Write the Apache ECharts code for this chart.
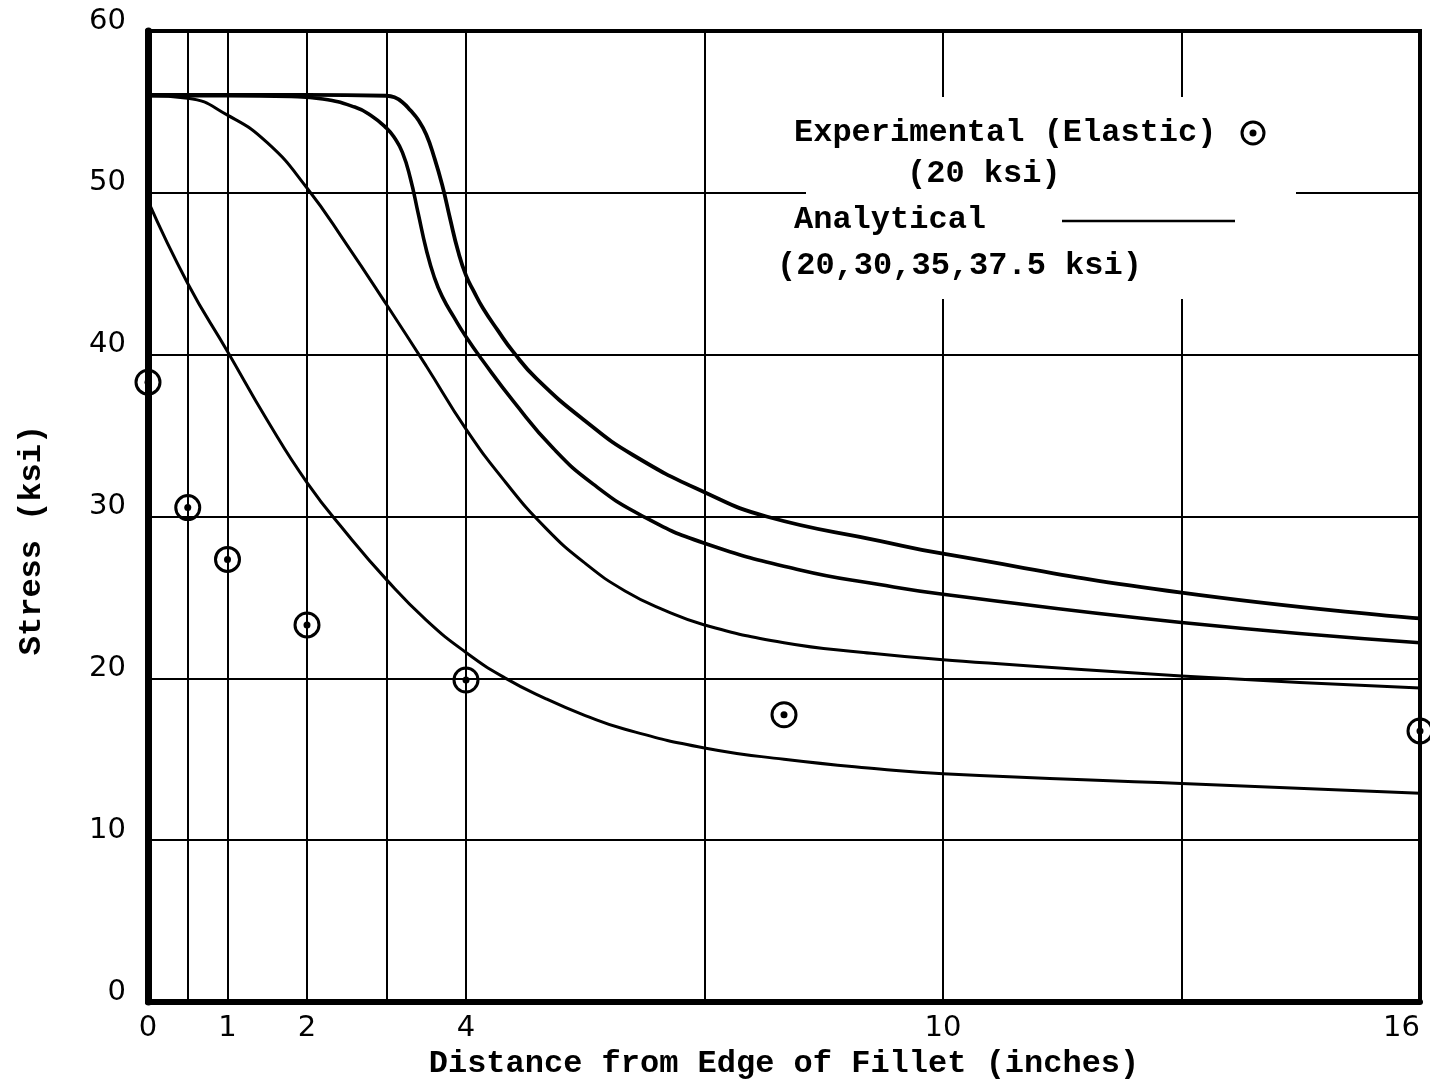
<!DOCTYPE html>
<html>
<head>
<meta charset="utf-8">
<title>Stress vs Distance from Edge of Fillet</title>
<script src="https://cdn.jsdelivr.net/npm/echarts@6/dist/echarts.min.js"></script>
<style>
  html, body { margin: 0; padding: 0; background: #fff; }
  #chart { width: 1430px; height: 1086px; }
</style>
</head>
<body>
<div id="chart"></div>
<script>
// Axis layout values (inches / ksi)
const xGridValues = [0, 0.5, 1, 2, 3, 4, 7, 10, 13, 16];
const xTickLabels = [0, 1, 2, 4, 10, 16];
const yTickLabels = [0, 10, 20, 30, 40, 50, 60];

// Experimental (elastic) measurements, 20 ksi
const expX = [0, 0.5, 1, 2, 4, 8, 16];
const expStress = [38.3, 30.55, 27.35, 23.3, 19.9, 17.75, 16.75];

// Analytical curves, one per applied stress level
const a20X = [0, 0.5, 1, 1.5, 2, 2.5, 3, 3.5, 4, 4.5, 5, 5.5, 6, 7, 8, 9.2, 10, 13, 16];
const a20Y = [49.5, 44.4, 40.2, 35.95, 32.1, 28.95, 26.1, 23.6, 21.6, 20.0, 18.75, 17.7, 16.85, 15.7, 15.0, 14.4, 14.1, 13.5, 12.9];

const a30X = [0, 0.5, 1, 1.5, 2, 2.5, 3, 3.5, 4, 4.5, 5, 5.5, 6, 6.5, 7, 8, 9, 10, 13, 16];
const a30Y = [56.0, 55.85, 54.8, 53.1, 50.3, 46.8, 43.1, 39.3, 35.4, 32.1, 29.3, 27.1, 25.4, 24.2, 23.3, 22.2, 21.6, 21.15, 20.15, 19.4];

const a35X = [0, 1, 1.8, 2.2, 2.6, 2.8, 3.0, 3.1, 3.2, 3.3, 3.4, 3.5, 3.6, 3.7, 3.85, 4.0, 4.2, 4.6, 5.1, 5.6, 6.23, 7, 8.2, 9.2, 10, 13, 16];
const a35Y = [56.0, 56.0, 55.95, 55.8, 55.3, 54.8, 54.0, 53.4, 52.5, 50.9, 48.7, 46.5, 44.8, 43.6, 42.3, 41.1, 39.7, 37.1, 34.2, 32.0, 30.0, 28.35, 26.7, 25.8, 25.2, 23.45, 22.2];

const a375X = [0, 1, 2, 3, 3.1, 3.2, 3.3, 3.4, 3.5, 3.6, 3.7, 3.8, 3.9, 4.0, 4.1, 4.21, 4.4, 4.59, 4.89, 5.5, 6.1, 7, 7.78, 9.2, 10, 13, 16];
const a375Y = [56.05, 56.05, 56.05, 56.0, 55.9, 55.6, 55.1, 54.5, 53.6, 52.2, 50.5, 48.4, 46.4, 44.9, 43.9, 42.9, 41.5, 40.2, 38.5, 35.9, 33.8, 31.5, 30.0, 28.5, 27.7, 25.3, 23.7];

const pairs = (xs, ys) => xs.map((x, i) => [x, ys[i]]);

const MONO = '"Liberation Mono", "DejaVu Sans Mono", monospace';
const NUM = '"DejaVu Sans", "Noto Sans", sans-serif';
const INK = '#000';
const TITLE_SIZE = 32;
const TITLE_WEIGHT = 'bold';

function curve(name, xs, ys, width) {
  return {
    name: name,
    type: 'line',
    data: pairs(xs, ys),
    smooth: 0.5,
    showSymbol: false,
    symbol: 'none',
    lineStyle: { color: INK, width: width },
    z: 3
  };
}

function legendText(text, x, y) {
  return {
    type: 'text', z: 11, x: x, y: y,
    style: {
      text: text, fontFamily: MONO, fontSize: TITLE_SIZE, fontWeight: TITLE_WEIGHT,
      fill: INK, verticalAlign: 'middle'
    }
  };
}

const chart = echarts.init(document.getElementById('chart'), null, { renderer: 'canvas' });

chart.setOption({
  backgroundColor: '#fff',
  animation: false,
  grid: {
    left: 148, right: 10, top: 31, bottom: 84,
    show: true, borderColor: INK, borderWidth: 4, backgroundColor: 'transparent'
  },
  xAxis: {
    type: 'value',
    min: 0, max: 16,
    name: 'Distance from Edge of Fillet (inches)',
    nameLocation: 'middle',
    nameGap: 44,
    nameTextStyle: { fontFamily: MONO, fontSize: TITLE_SIZE, fontWeight: TITLE_WEIGHT, color: INK },
    axisLine: { show: true, onZero: false, lineStyle: { color: INK, width: 6 } },
    axisTick: { show: false, customValues: xGridValues },
    axisLabel: {
      customValues: xTickLabels,
      fontFamily: NUM, fontSize: 29, color: INK, margin: 12,
      alignMaxLabel: 'right'
    },
    splitLine: { show: true, lineStyle: { color: INK, width: 2 } }
  },
  yAxis: [{
    type: 'value',
    min: 0, max: 60, interval: 10,
    name: 'Stress (ksi)',
    nameLocation: 'middle',
    nameGap: 100,
    nameTextStyle: {
      fontFamily: MONO, fontSize: TITLE_SIZE, fontWeight: TITLE_WEIGHT, color: INK,
      padding: [0, 47, 0, 0]
    },
    axisLine: { show: true, onZero: false, lineStyle: { color: INK, width: 7 } },
    axisTick: { show: false },
    axisLabel: {
      customValues: yTickLabels,
      fontFamily: NUM, fontSize: 29, color: INK, margin: 22,
      verticalAlign: 'bottom', lineHeight: 20
    },
    splitLine: { show: true, lineStyle: { color: INK, width: 2 } }
  }, {
    type: 'value',
    position: 'right',
    min: 0, max: 60,
    axisLine: { show: true, lineStyle: { color: INK, width: 6 } },
    axisTick: { show: false },
    axisLabel: { show: false },
    splitLine: { show: false }
  }],
  series: [
    curve('Analytical 20 ksi', a20X, a20Y, 3),
    curve('Analytical 30 ksi', a30X, a30Y, 3),
    curve('Analytical 35 ksi', a35X, a35Y, 3.6),
    curve('Analytical 37.5 ksi', a375X, a375Y, 3.8),
    {
      name: 'Experimental (Elastic)',
      type: 'scatter',
      data: pairs(expX, expStress),
      symbol: 'circle',
      symbolSize: 24,
      clip: false,
      itemStyle: { color: 'rgba(0,0,0,0)', borderColor: INK, borderWidth: 3, opacity: 1 },
      z: 4
    },
    {
      name: 'Experimental (Elastic) centre',
      type: 'scatter',
      data: pairs(expX, expStress),
      symbol: 'circle',
      symbolSize: 7,
      clip: false,
      itemStyle: { color: INK, opacity: 1 },
      z: 5
    }
  ],
  graphic: [
    { type: 'rect', z: 10, shape: { x: 806, y: 97, width: 490, height: 202 }, style: { fill: '#fff' } },
    legendText('Experimental (Elastic)', 794, 133),
    { type: 'circle', z: 11, shape: { cx: 1253, cy: 133, r: 11 }, style: { fill: 'none', stroke: INK, lineWidth: 3 } },
    { type: 'circle', z: 11, shape: { cx: 1253, cy: 133, r: 3.5 }, style: { fill: INK } },
    legendText('(20 ksi)', 907, 174),
    legendText('Analytical', 794, 220),
    { type: 'line', z: 11, shape: { x1: 1062, y1: 221, x2: 1235, y2: 221 }, style: { stroke: INK, lineWidth: 2.5 } },
    legendText('(20,30,35,37.5 ksi)', 777, 266)
  ]
});
</script>
</body>
</html>
